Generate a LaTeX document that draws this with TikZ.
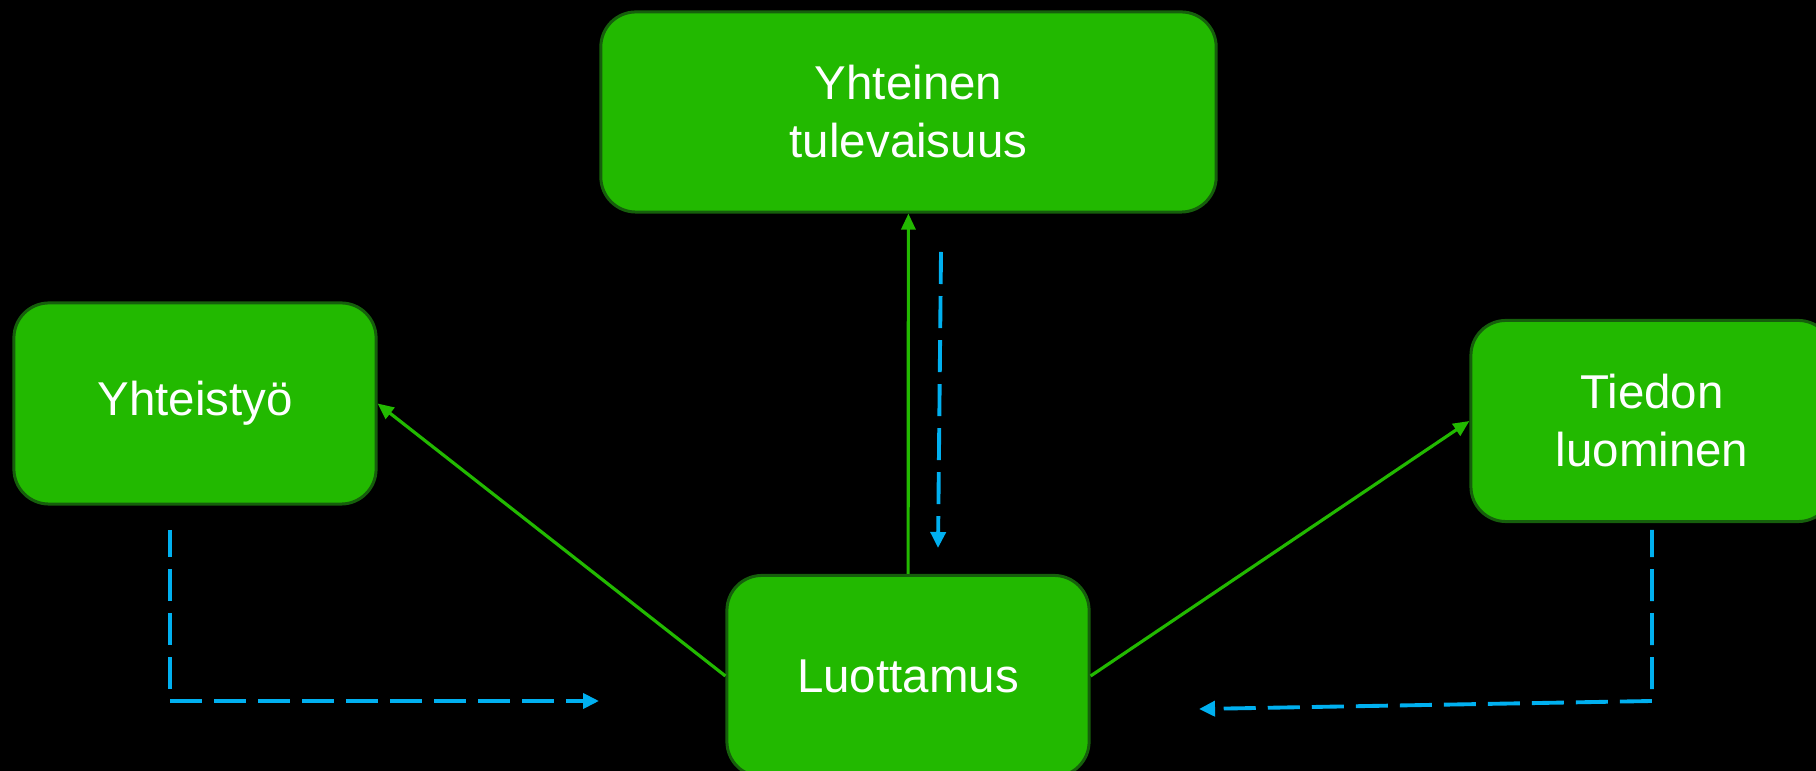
\documentclass[tikz,border=0pt]{standalone}
\usepackage{fontspec}
\setmainfont{Liberation Sans}
\usetikzlibrary{arrows.meta,calc}
\definecolor{boxgreen}{RGB}{34,185,0}
\definecolor{boxedge}{RGB}{22,95,12}
\definecolor{flowblue}{RGB}{0,176,240}

\begin{document}
\begin{tikzpicture}[x={(0.01cm,0cm)}, y={(0cm,-0.01cm)}]
%styles
\tikzstyle{theme}=[rectangle, rounded corners=0.35cm, fill=boxgreen, draw=boxedge, line width=0.85pt, text=white, align=center, font=\fontsize{13.5}{16.5}\selectfont, minimum width=3.62cm, minimum height=2.01cm]
\tikzstyle{link}=[-{Triangle[length=0.16cm,width=0.14cm]}, boxgreen, line width=0.9pt]
\tikzstyle{flow}=[-{Triangle[length=0.16cm,width=0.15cm]}, flowblue, line width=1.1pt, dash pattern=on 0.32cm off 0.12cm]

\useasboundingbox (0,0) rectangle (1816,771);
\fill[black] (0,0) rectangle (1816,771);
\clip (0,0) rectangle (1816,771);

%boxes
\node[theme, minimum width=6.15cm, minimum height=2cm] (future) at (908.5,112) {Yhteinen\\tulevaisuus};
\node[theme] (coop) at (195,403.5) {Yhteistyö};
\node[theme] (know) at (1652,421) {Tiedon\\luominen};
\node[theme] (trust) at (908,676) {Luottamus};

%green arrows
\draw[link] (trust) -- (future);
\draw[link] (trust.west) -- (coop.east);
\draw[link] (trust.east) -- (know.west);

%dashed loops
\coordinate (down0) at (941,252);
\coordinate (down1) at (938,548);
\draw[flow] (down0) -- (down1);

\coordinate (left0) at (170,530);
\coordinate (left1) at (170,701);
\coordinate (left2) at (599,701);
\draw[flow, dash phase=0.05cm, line join=miter] (left0) -- (left1) -- (left2);

\coordinate (right0) at (1652,530);
\coordinate (right1) at (1652,701);
\coordinate (right2) at (1199,709);
\draw[flow, dash phase=0.05cm, line join=miter] (right0) -- (right1) -- (right2);
\end{tikzpicture}
\end{document}
